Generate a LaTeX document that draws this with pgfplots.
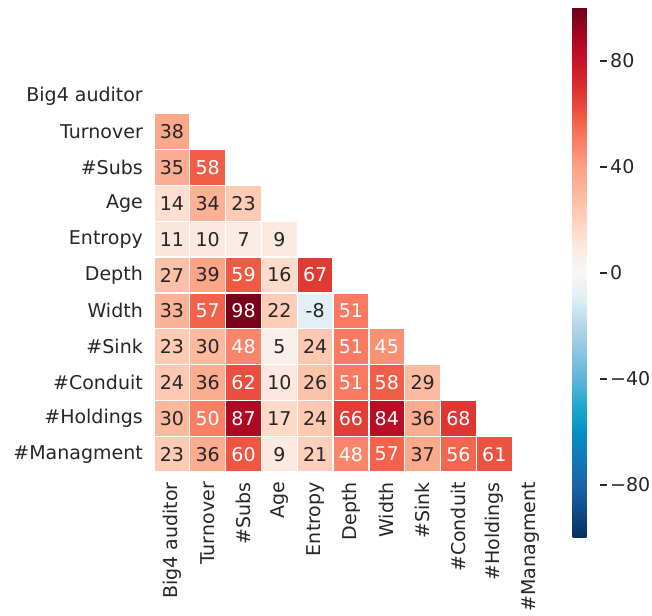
\documentclass[border=0pt]{standalone}
\usepackage{fontspec}
\setmainfont{DejaVu Sans}
\usepackage{pgfplots}
\usepackage{pgfplotstable}
\pgfplotsset{compat=1.18}

\definecolor{txt}{HTML}{262626}
\newcommand{\lblfont}{\fontsize{19bp}{23bp}\selectfont}

% lower triangle, cells whose numbers are dark
\pgfplotstableread{
x y v
0 1 38
0 2 35
0 3 14
1 3 34
2 3 23
0 4 11
1 4 10
2 4 7
3 4 9
0 5 27
1 5 39
3 5 16
0 6 33
3 6 22
4 6 -8
0 7 23
1 7 30
3 7 5
4 7 24
0 8 24
1 8 36
3 8 10
4 8 26
7 8 29
0 9 30
3 9 17
4 9 24
7 9 36
0 10 23
1 10 36
3 10 9
4 10 21
7 10 37
}\darkcells

% cells whose numbers are white
\pgfplotstableread{
x y v
1 2 58
2 5 59
4 5 67
1 6 57
2 6 98
5 6 51
2 7 48
5 7 51
6 7 45
2 8 62
5 8 51
6 8 58
1 9 50
2 9 87
5 9 66
6 9 84
8 9 68
2 10 60
5 10 48
6 10 57
8 10 56
9 10 61
}\lightcells

\pgfplotsset{
    cell/.style={scatter, only marks, mark=square*, mark size=17.909bp,
        point meta=explicit,
        scatter/use mapped color={draw=white, fill=mapped color},
        mark options={line width=1.2bp}},
    num/.style={draw=none, mark=none, point meta=explicit,
        nodes near coords, nodes near coords align=center,
        every node near coord/.append style={font=\lblfont, text=#1, inner sep=0pt}},
}

\begin{document}
\begin{tikzpicture}
\useasboundingbox (-154bp,-144bp) rectangle (498bp,472bp);
\begin{axis}[
    at={(0,0)}, anchor=south west,
    scale only axis,
    width=394bp, height=394bp,
    xmin=-0.5, xmax=10.5, ymin=-0.5, ymax=10.5,
    y dir=reverse,
    clip=false,
    axis line style={draw=none},
    major tick length=0pt,
    xtick={0,...,10}, ytick={0,...,10},
    xticklabels={Big4 auditor,Turnover,\#Subs,Age,Entropy,Depth,Width,\#Sink,\#Conduit,\#Holdings,\#Managment},
    yticklabels={Big4 auditor,Turnover,\#Subs,Age,Entropy,Depth,Width,\#Sink,\#Conduit,\#Holdings,\#Managment},
    xticklabel style={rotate=90, anchor=east, inner sep=0pt, font=\lblfont, text=txt},
    yticklabel style={anchor=east, inner sep=0pt, font=\lblfont, text=txt},
    xticklabel shift=10bp,
    yticklabel shift=11bp,
    /pgf/number format/assume math mode=true,
    colormap={rdbu}{
        rgb255=(5,48,97) rgb255=(15,74,134) rgb255=(25,100,170)
        rgb255=(17,120,183) rgb255=(5,145,196) rgb255=(32,167,206)
        rgb255=(95,180,215) rgb255=(138,198,224) rgb255=(180,215,232)
        rgb255=(222,237,243) rgb255=(247,247,247) rgb255=(252,232,222)
        rgb255=(253,210,190) rgb255=(252,185,158) rgb255=(251,162,132)
        rgb255=(250,126,100) rgb255=(238,86,66) rgb255=(220,46,46)
        rgb255=(200,20,40) rgb255=(165,5,35) rgb255=(110,0,25)
    },
    point meta min=-100, point meta max=100,
    colorbar,
    colorbar style={
        scale only axis,
        width=27bp, height=530bp,
        at={(parent axis.north east)}, anchor=north west,
        xshift=16bp, yshift=70bp,
        axis line style={draw=none},
        ytick={-80,-40,0,40,80},
        yticklabels={−80,−40,0,40,80},
        ytick pos=right,
        yticklabel pos=right,
        tick align=outside,
        major tick length=7bp,
        tick style={draw=txt, line width=1.2bp},
        yticklabel style={font=\lblfont, text=txt, inner sep=3.5bp},
    },
]
\addplot[cell] table[x=x, y=y, meta=v] {\darkcells};
\addplot[cell] table[x=x, y=y, meta=v] {\lightcells};
\addplot[num=txt] table[x=x, y=y, meta=v] {\darkcells};
\addplot[num=white] table[x=x, y=y, meta=v] {\lightcells};
\end{axis}
\end{tikzpicture}
\end{document}
